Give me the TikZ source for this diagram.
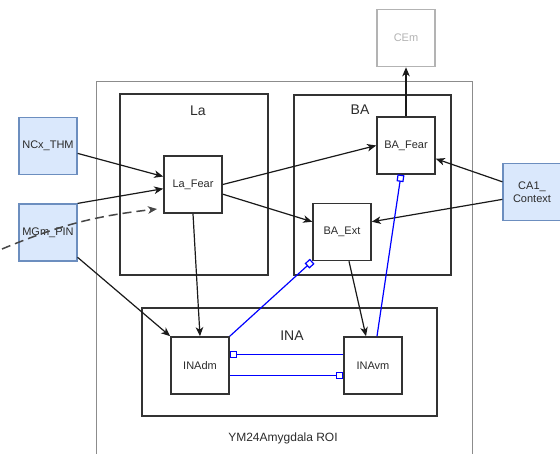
\documentclass[tikz,border=0pt]{standalone}
\usepackage{fontspec}
\setmainfont{Liberation Sans}
\usepackage{xcolor}
\usetikzlibrary{arrows.meta}
\definecolor{ink}{HTML}{2B2B2B}
\definecolor{frame}{HTML}{333333}
\definecolor{roi}{HTML}{8C8C8C}
\definecolor{inputfill}{HTML}{DAE8FC}
\definecolor{inputline}{HTML}{6C8EBF}
\definecolor{outgray}{HTML}{B3B3B3}
\definecolor{inhib}{HTML}{0000FF}

\begin{document}
\begin{tikzpicture}[x=1pt,y=-1pt,font=\fontsize{11}{13}\selectfont,text=ink,
  cell/.style={draw=frame,line width=1.6pt,fill=white,minimum width=58pt,minimum height=57pt,inner sep=1pt,align=center},
  input/.style={cell,draw=inputline,fill=inputfill,line width=1.2pt},
  group/.style={draw=frame,line width=1.8pt,inner sep=0pt},
  grouplab/.style={font=\fontsize{14}{16}\selectfont},
  excite/.style={draw=black!90,line width=1.2pt,-{Stealth[length=9pt,width=7.5pt,inset=2.5pt]}},
  inhibit/.style={draw=inhib,line width=1.2pt,-{Square[open,length=7pt,width=7pt]}}]
  \useasboundingbox (0,0) rectangle (560,454);
  % region of interest, cut off at the bottom
  \draw[roi,line width=0.8pt] (96,454) |- (472,81) -- (472,454);
  \node[font=\fontsize{12}{14}\selectfont] (roilab) at (283,438) {YM24Amygdala ROI};

  \node[group,minimum width=148pt,minimum height=181pt] (la) at (194,184.5) {};
  \node[group,minimum width=157pt,minimum height=180pt] (ba) at (372.5,185) {};
  \node[group,minimum width=295pt,minimum height=108pt] (ina) at (289.5,362) {};
  \node[grouplab] (lalab) at (198,111) {La};
  \node[grouplab] (balab) at (360,110) {BA};
  \node[grouplab] (inalab) at (292,336) {INA};

  \node[input] (ncx) at (48,146) {NCx\_THM};
  \node[input] (mgm) at (48,232.5) {MGm\_PIN};
  \node[input] (ca1) at (532,192) {CA1\_\\Context};
  \node[cell] (lafear) at (193,184.5) {La\_Fear};
  \node[cell] (bafear) at (406,145.5) {BA\_Fear};
  \node[cell] (baext) at (342,232) {BA\_Ext};
  \node[cell,draw=outgray,text=outgray] (cem) at (406,38) {CEm};
  \node[cell] (inadm) at (200,365.5) {INAdm};
  \node[cell] (inavm) at (373,365.5) {INAvm};

  \foreach \from/\to in {ncx.346/lafear.165, mgm.north east/lafear.188,
      mgm.320/inadm.north west, lafear.south/inadm.north, lafear.east/bafear.west,
      lafear.342/baext.161, ca1.161/bafear.336, ca1.194/baext.19, bafear.north/cem.south}
    \draw[excite] (\from) -- (\to);
  \draw[excite] ([xshift=7pt]baext.south) -- ([xshift=-7pt]inavm.north);

  \draw[inhibit] (inadm.north east) -- (baext.south west);
  \draw[inhibit] ([xshift=4pt]inavm.north) -- ([xshift=-5pt]bafear.south);
  \draw[inhibit] ([yshift=11pt]inavm.west) -- ([yshift=11pt]inadm.east);
  \draw[inhibit] ([yshift=-10pt]inadm.east) -- ([yshift=-10pt]inavm.west);

  % input coming from outside the picture
  \coordinate (dashin) at (2,249);
  \coordinate (dashout) at (157,209);
  \draw[excite,draw=frame!90,line width=1.5pt,dash pattern=on 9pt off 5pt] (dashin) to[bend left=8] (dashout);
\end{tikzpicture}
\end{document}
